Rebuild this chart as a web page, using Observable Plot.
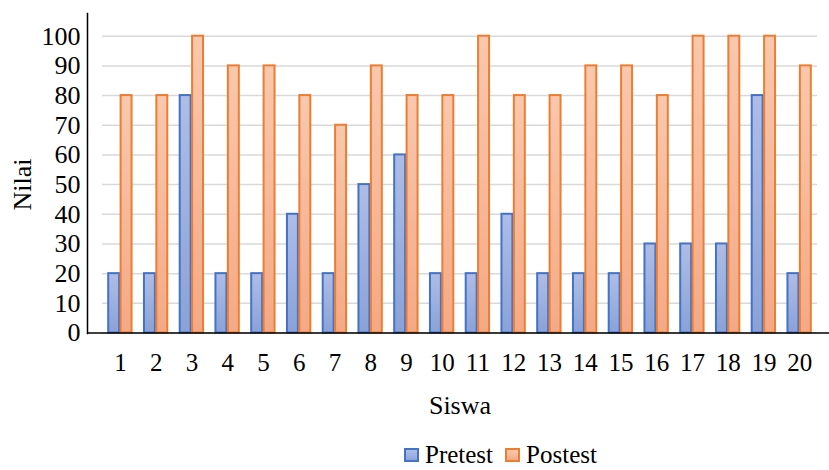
<!DOCTYPE html>
<html><head><meta charset="utf-8">
<script src="https://cdn.jsdelivr.net/npm/d3@7"></script>
<script src="https://cdn.jsdelivr.net/npm/@observablehq/plot@0.6"></script>
<style>
body{margin:0;background:#fff;font-family:'Liberation Serif','DejaVu Serif',serif;overflow:hidden;}
#chart svg{display:block;}
#legend{display:flex;align-items:center;height:22px;line-height:22px;margin-top:4px;margin-left:404px;font-size:25px;color:#000;font-family:'Liberation Serif','DejaVu Serif',serif;}
.sw{width:11px;height:10px;border:2px solid;margin-right:6px;}
#chart svg text{font-family:'Liberation Serif','DejaVu Serif',serif;}
</style></head><body>
<div id="chart"></div>
<div id="legend">
  <div class="sw" style="border-color:#4472c4;background:linear-gradient(#aebde6,#8ea5da)"></div><span>Pretest</span>
  <div class="sw" style="margin-left:12px;border-color:#ed7d31;background:linear-gradient(#f9c8ae,#f4aa86)"></div><span>Postest</span>
</div>
<script>
const siswa = ["1","2","3","4","5","6","7","8","9","10","11","12","13","14","15","16","17","18","19","20"];
const pretest = [20,20,80,20,20,40,20,50,60,20,20,40,20,20,20,30,30,30,80,20];
const postest = [80,80,100,90,90,80,70,90,80,80,100,80,80,90,90,80,100,100,100,90];
const yTicks = [0,10,20,30,40,50,60,70,80,90,100];

const rows = siswa.map((s, i) => ({siswa: s, pretest: pretest[i], postest: postest[i]}));

const chart = Plot.plot({
  width: 829,
  height: 440,
  marginLeft: 102,
  marginRight: 12,
  marginTop: 13,
  marginBottom: 107,
  style: {fontFamily: "'Liberation Serif', 'DejaVu Serif', serif", fontSize: "24px", color: "#000", background: "#fff"},
  x: {domain: siswa, padding: 0, round: false},
  y: {domain: [0, 100], range: [332.5, 35.7]},
  marks: [
    Plot.gridY(yTicks, {stroke: "#d9d9d9", strokeOpacity: 1, strokeWidth: 1.5}),
    Plot.barY(rows, {x: "siswa", y: "pretest", fill: "url(#gBlue)", stroke: "#4472c4", strokeWidth: 2, insetLeft: 6.2, insetRight: 18.6}),
    Plot.barY(rows, {x: "siswa", y: "postest", fill: "url(#gOrange)", stroke: "#ed7d31", strokeWidth: 2, insetLeft: 18.6, insetRight: 6.2}),
    Plot.ruleY([0], {stroke: "#000", strokeWidth: 1.5, insetLeft: -15, insetRight: -12}),
    Plot.frame({anchor: "left", dx: -15, stroke: "#000", strokeWidth: 1.5}),
    Plot.axisY({ticks: yTicks, tickSize: 0, tickPadding: 22, fontSize: 26, label: null}),
    Plot.axisX({tickSize: 0, tickPadding: 20, fontSize: 25, label: null}),
    Plot.text(["Nilai"], {frameAnchor: "left", dx: -80, dy: 11, rotate: -90, fontSize: 26, textAnchor: "middle", lineAnchor: "middle"}),
    Plot.text(["Siswa"], {frameAnchor: "bottom", dy: 72, fontSize: 26, textAnchor: "middle", lineAnchor: "middle"})
  ]
});

const svg = d3.select(chart);
svg.insert("defs", ":first-child").html(`
  <linearGradient id="gBlue" x1="0" y1="0" x2="0" y2="1">
    <stop offset="0" stop-color="#aebde6"/><stop offset="1" stop-color="#8aa2d8"/>
  </linearGradient>
  <linearGradient id="gOrange" x1="0" y1="0" x2="0" y2="1">
    <stop offset="0" stop-color="#f9c8ae"/><stop offset="1" stop-color="#f4a985"/>
  </linearGradient>`);
document.getElementById("chart").appendChild(chart);
</script>
</body></html>
